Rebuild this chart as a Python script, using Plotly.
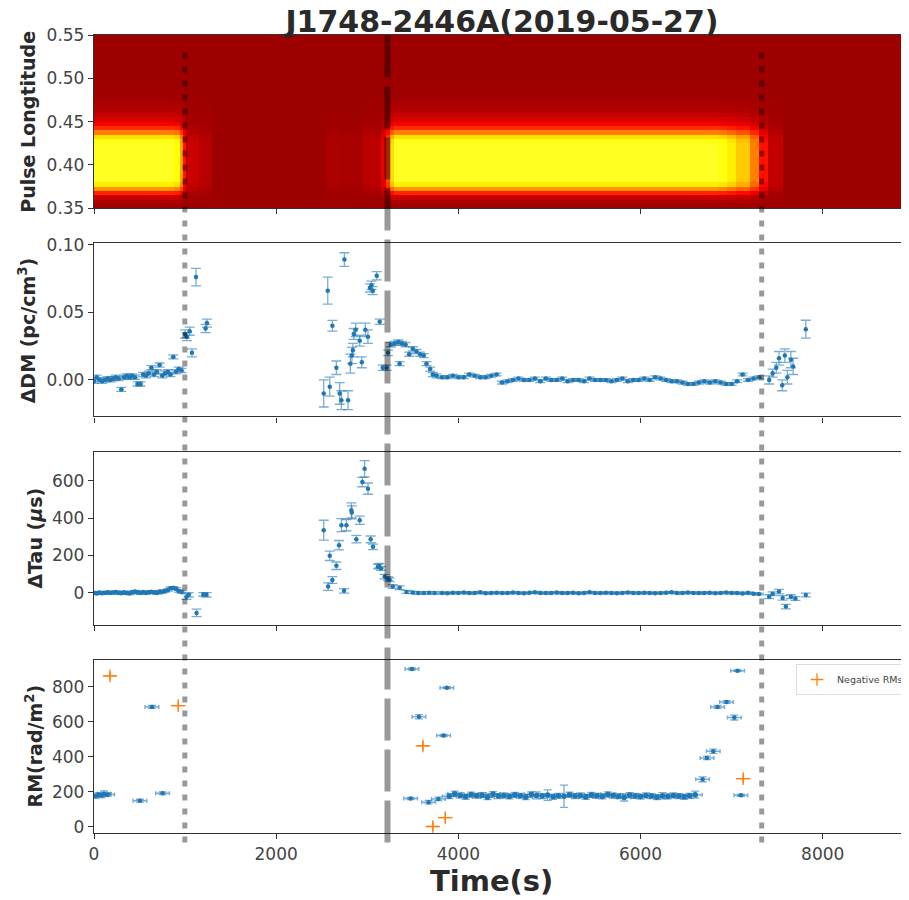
import plotly.graph_objects as go
from plotly.subplots import make_subplots

# ---- top panel: pulse stack (time columns x longitude rows) ----
heat_t_edges = [0, 880, 940, 980, 1010, 1150, 1300, 2550, 2700, 2950, 3150,
                3210, 3250, 3290, 6850, 6950, 7050, 7200, 7300, 7400, 7560, 8936]
heat_amp = [1.0, 0.95, 0.7, 0.3, 0.12, 0.07, 0.0, 0.04, 0.03, 0.08,
            0.2, 0.45, 0.85, 1.0, 0.97, 0.9, 0.8, 0.6, 0.3, 0.1, 0.0]
lon_edges = [0.350, 0.355, 0.360, 0.365, 0.370, 0.375, 0.380, 0.385, 0.390, 0.395,
             0.400, 0.405, 0.410, 0.415, 0.420, 0.425, 0.430, 0.435, 0.440, 0.445,
             0.450, 0.455, 0.460, 0.465, 0.470, 0.475, 0.480, 0.485, 0.490, 0.495,
             0.500, 0.505, 0.510, 0.515, 0.520, 0.525, 0.530, 0.535, 0.540, 0.545, 0.550]
lon_profile = [0.01, 0.04, 0.12, 0.35, 0.65, 0.9, 1.0, 1.0, 1.0, 1.0,
               1.0, 1.0, 1.0, 1.0, 1.0, 0.97, 0.85, 0.6, 0.38, 0.24,
               0.16, 0.11, 0.07, 0.045, 0.03, 0.02, 0.01, 0.005, 0.0, 0.0,
               0.0, 0.0, 0.0, 0.0, 0.0, 0.0, 0.0, 0.0, 0.0, 0.0]
heat_bg = 0.22
heat_gain = 0.56

# ---- shared time samples ----
t_early = [0, 30, 60, 90, 120, 150, 180, 210, 240, 270,
           300, 330, 360, 390, 420, 450, 480, 510, 540, 570,
           600, 630, 660, 690, 720, 750, 780, 810, 840, 870,
           900, 930, 960]
t_main = [3820, 3880, 3940, 4000, 4060, 4120, 4180, 4240, 4300, 4360,
          4420, 4480, 4540, 4600, 4660, 4720, 4780, 4840, 4900, 4960,
          5020, 5080, 5140, 5200, 5260, 5320, 5380, 5440, 5500, 5560,
          5620, 5680, 5740, 5800, 5860, 5920, 5980, 6040, 6100, 6160,
          6220, 6280, 6340, 6400, 6460, 6520, 6580, 6640, 6700, 6760,
          6820, 6880, 6940, 7000, 7060, 7120, 7180, 7240, 7300]

# ---- DM ----
dm_early = [-0.001, 0.002, 0.000, -0.001, 0.000, 0.001, 0.000, 0.001, 0.002, 0.001,
            -0.007, 0.002, 0.003, 0.002, 0.003, 0.002, -0.003, -0.003, 0.004, 0.003,
            0.005, 0.009, 0.004, 0.006, 0.011, 0.003, 0.005, 0.006, 0.004, 0.017,
            0.006, 0.008, 0.007]
dm_t_burst = [1000, 1020, 1050, 1075, 1120, 1225, 1240, 2522, 2566, 2588,
              2617, 2661, 2697, 2716, 2749, 2789, 2814, 2831, 2842, 2851,
              2873, 2917, 2940, 2979, 3007, 3030, 3045, 3060, 3104, 3136,
              3170, 3213, 3227]
dm_burst = [0.034, 0.032, 0.036, 0.020, 0.076, 0.038, 0.042, -0.010, 0.066, -0.005,
            0.040, 0.009, -0.010, -0.015, 0.089, -0.015, 0.012, 0.018, 0.022, 0.034,
            0.037, 0.029, 0.013, 0.037, 0.032, 0.068, 0.070, 0.066, 0.077, 0.043,
            0.009, 0.009, 0.020]
dm_burst_err = [0.003, 0.003, 0.003, 0.003, 0.0065, 0.003, 0.003, 0.010, 0.010, 0.007,
                0.004, 0.005, 0.008, 0.007, 0.005, 0.007, 0.007, 0.006, 0.005, 0.004,
                0.005, 0.004, 0.004, 0.005, 0.005, 0.003, 0.003, 0.003, 0.003, 0.002,
                0.002, 0.002, 0.002]
dm_t_tr = [3260, 3300, 3340, 3355, 3380, 3420, 3460, 3500, 3540, 3580,
           3620, 3650, 3690, 3720, 3760]
dm_tr = [0.026, 0.027, 0.028, 0.012, 0.027, 0.026, 0.019, 0.023, 0.021, 0.019,
         0.018, 0.012, 0.008, 0.004, 0.003]
dm_main = [0.002, 0.002, 0.003, 0.002, 0.002, 0.004, 0.003, 0.002, 0.002, 0.003,
           0.004, -0.002, -0.001, 0.000, 0.001, 0.000, 0.000, 0.001, -0.001, 0.001,
           0.000, 0.000, 0.001, -0.001, 0.000, 0.000, -0.001, 0.001, 0.000, 0.000,
           0.000, -0.001, 0.000, 0.001, -0.001, 0.000, 0.000, 0.001, 0.000, 0.002,
           0.001, 0.000, -0.001, -0.001, -0.002, -0.003, -0.003, -0.002, -0.001, -0.002,
           -0.001, -0.002, -0.003, -0.003, -0.001, 0.004, 0.000, 0.001, 0.002]
dm_t_late = [7412, 7450, 7490, 7520, 7555, 7584, 7612, 7650, 7675, 7814]
dm_late = [0.000, 0.005, 0.009, 0.016, -0.004, 0.018, 0.002, 0.015, 0.010, 0.0375]
dm_late_err = [0.003, 0.003, 0.004, 0.005, 0.004, 0.005, 0.005, 0.006, 0.006, 0.0066]

# ---- Tau ----
tau_early = [0, -3, 2, -2, 0, 3, -1, 2, 5, 0,
             -2, 3, 0, -3, 4, 8, 2, 0, 5, -1,
             3, 6, 2, 0, 8, 5, 10, 15, 25, 28,
             22, 10, 5]
tau_t_burst = [1016, 1040, 1126, 1200, 1235, 2522, 2570, 2588, 2617, 2661,
               2690, 2716, 2745, 2771, 2825, 2830, 2880, 2917, 2946, 2971,
               3008, 3037, 3063, 3117, 3130, 3150, 3190, 3227, 3245, 3280,
               3355, 3430, 3500, 3560, 3620, 3680, 3740]
tau_burst = [-20, -10, -107, -8, -10, 335, 34, 198, 69, 145,
             255, 362, 11, 362, 441, 430, 287, 388, 592, 663,
             557, 286, 246, 140, 145, 130, 87, 77, 70, 34,
             28, 5, 2, 0, -1, 1, 0]
tau_burst_err = [15, 12, 20, 10, 12, 53, 20, 25, 18, 20,
                 25, 35, 12, 30, 40, 35, 20, 22, 25, 44,
                 30, 18, 15, 12, 12, 10, 12, 10, 10, 10,
                 10, 8, 6, 6, 6, 6, 6]
tau_main = [0, -2, 1, 0, 2, -1, 0, 3, -2, 0,
            1, 0, -1, 2, 0, -2, 1, 3, 0, -1,
            0, 2, -1, 0, 1, -2, 0, 3, 0, -1,
            1, 0, -2, 0, 2, 0, -1, 1, 0, -2,
            0, 1, 3, 0, -1, 2, 0, -1, 0, 1,
            -2, 0, 2, -1, 0, -3, 1, -4, -6]
tau_t_late = [7412, 7450, 7520, 7560, 7595, 7650, 7700, 7814]
tau_late = [-20, -5, 7, -27, -73, -20, -30, -11]
tau_late_err = [10, 10, 12, 12, 12, 10, 10, 10]

# ---- RM ----
rm_t_pos = [20, 50, 80, 110, 150, 504, 636, 753, 3476, 3490,
            3567, 3673, 3780, 3838, 3874, 6681, 6729, 6798, 6845, 6944,
            7029, 7065, 7101]
rm_pos = [175, 185, 180, 190, 185, 150, 686, 192, 162, 903,
          630, 141, 160, 522, 796, 272, 394, 432, 686, 714,
          625, 893, 181]
rm_pos_err = [10, 10, 12, 15, 10, 8, 8, 8, 6, 6,
              12, 10, 10, 6, 6, 14, 10, 12, 8, 8,
              14, 6, 6]
rm_t_main = [3900, 3960, 4020, 4080, 4140, 4200, 4260, 4320, 4380, 4440,
             4500, 4560, 4620, 4680, 4740, 4800, 4860, 4920, 4980, 5040,
             5100, 5160, 5220, 5280, 5340, 5400, 5460, 5520, 5580, 5640,
             5700, 5760, 5820, 5880, 5940, 6000, 6060, 6120, 6180, 6240,
             6300, 6360, 6420, 6480, 6540, 6600]
rm_main = [175, 190, 180, 172, 185, 178, 182, 170, 188, 176,
           180, 174, 183, 178, 170, 186, 180, 176, 182, 172,
           178, 175, 184, 176, 180, 171, 183, 178, 174, 186,
           179, 175, 168, 182, 177, 173, 180, 176, 170, 178,
           174, 180, 176, 172, 178, 184]
rm_main_err = [14, 14, 14, 14, 14, 14, 14, 14, 14, 14,
               14, 14, 14, 14, 14, 14, 20, 14, 30, 14,
               14, 64, 14, 14, 14, 14, 14, 14, 14, 14,
               14, 14, 20, 14, 14, 14, 14, 14, 14, 18,
               14, 14, 14, 14, 14, 20]
rm_t_neg = [175, 925, 3611, 3720, 3856, 7127]
rm_neg = [863, 693, 463, 2, 53, 276]

event_lines = [997, 3222, 7330]

BLUE = "#1f77b4"
BLUE_ERR = "rgba(31,119,180,0.6)"
ORANGE = "#ff7f0e"
FONT = "DejaVu Sans"

# the page puts the figure 8px in from the top-left corner
OFF = 8
W, H = 909 - OFF, 900 - OFF

fig = make_subplots(rows=4, cols=1, shared_xaxes=True, vertical_spacing=0.044)

# heatmap
z = [[heat_bg + heat_gain * a * p for a in heat_amp] for p in lon_profile]
hot = [[0.0, "rgb(10,0,0)"], [0.365, "rgb(255,0,0)"],
       [0.746, "rgb(255,255,0)"], [1.0, "rgb(255,255,255)"]]
fig.add_trace(go.Heatmap(x=heat_t_edges, y=lon_edges, z=z, colorscale=hot,
                         zmin=0, zmax=1, showscale=False, hoverinfo="skip"),
              row=1, col=1)


def errpts(x, y, err, row, xerr=None, capw=5, size=4.5, xcap=2):
    tr = go.Scatter(
        x=x, y=y, mode="markers",
        marker=dict(color=BLUE, size=size),
        error_y=dict(type="data", array=err, color=BLUE_ERR, thickness=1.3, width=capw),
        showlegend=False,
    )
    if xerr is not None:
        tr.error_x = dict(type="data", array=xerr, color=BLUE_ERR, thickness=1.5, width=xcap)
    fig.add_trace(tr, row=row, col=1)


# DM
errpts(t_early, dm_early, [0.0015] * len(t_early), 2, xerr=[30] * len(t_early), xcap=0)
errpts(dm_t_burst, dm_burst, dm_burst_err, 2)
errpts(dm_t_tr, dm_tr, [0.0015] * len(dm_t_tr), 2, xerr=[25] * len(dm_t_tr), xcap=0)
errpts(t_main, dm_main, [0.001] * len(t_main), 2, xerr=[32] * len(t_main), xcap=0)
errpts(dm_t_late, dm_late, dm_late_err, 2)

# Tau
errpts(t_early, tau_early, [6] * len(t_early), 3, xerr=[30] * len(t_early), xcap=0)
errpts(tau_t_burst, tau_burst, tau_burst_err, 3)
errpts(t_main, tau_main, [5] * len(t_main), 3, xerr=[32] * len(t_main), xcap=0)
errpts(tau_t_late, tau_late, tau_late_err, 3)

# RM
errpts(rm_t_main, rm_main, rm_main_err, 4, xerr=[75] * len(rm_t_main), capw=4, size=5.5)
errpts(rm_t_pos, rm_pos, rm_pos_err, 4, xerr=[75] * len(rm_t_pos), capw=4)
fig.add_trace(go.Scatter(
    x=rm_t_neg, y=rm_neg, mode="markers", name="Negative RMs",
    marker=dict(symbol="cross-thin-open", size=9, color=ORANGE,
                line=dict(color=ORANGE, width=1.3)),
    error_x=dict(type="data", array=[80] * len(rm_t_neg), color=ORANGE, thickness=1.3, width=0),
    error_y=dict(type="data", array=[25] * len(rm_t_neg), color=ORANGE, thickness=1.3, width=0),
    showlegend=True,
), row=4, col=1)

# event markers across all panels
for i, xv in enumerate(event_lines):
    dashed = i == 1
    fig.add_shape(type="line", xref="x4", yref="paper", x0=xv, x1=xv,
                  y0=-0.012, y1=1.0 if dashed else 0.985,
                  line=dict(color="rgba(0,0,0,0.4)", width=6 if dashed else 5,
                            dash="42px,9px" if dashed else "6px,8px"))

axis_style = dict(showline=True, linecolor="#333", linewidth=1.3, mirror=True,
                  ticks="outside", ticklen=5, tickwidth=1.3, tickcolor="#333",
                  showgrid=False, zeroline=False,
                  tickfont=dict(family=FONT, size=17, color="#444"))
for r in range(1, 5):
    fig.update_xaxes(range=[0, 8936], tickvals=[0, 2000, 4000, 6000, 8000],
                     row=r, col=1, **axis_style)
    fig.update_yaxes(row=r, col=1, **axis_style)

fig.update_yaxes(range=[0.35, 0.55], tickvals=[0.35, 0.40, 0.45, 0.50, 0.55],
                 tickformat=".2f", row=1, col=1)
fig.update_yaxes(range=[-0.027, 0.101], tickvals=[0.0, 0.05, 0.10],
                 tickformat=".2f", row=2, col=1)
fig.update_yaxes(range=[-170, 755], tickvals=[0, 200, 400, 600], row=3, col=1)
fig.update_yaxes(range=[-35, 955], tickvals=[0, 200, 400, 600, 800], row=4, col=1)

ylabels = [
    ("Pulse Longtitude", 28, 0.8915),
    ("ΔDM (pc/cm<sup>3</sup>)", 27, 0.630),
    ("ΔTau (<i>μ</i>s)", 34, 0.369),
    ("RM(rad/m<sup>2</sup>)", 34, 0.1085),
]
for txt, px, yc in ylabels:
    fig.add_annotation(text="<b>" + txt + "</b>", xref="paper", yref="paper",
                       x=(px - 94) / 815, y=yc, textangle=-90, showarrow=False,
                       xanchor="center", yanchor="middle",
                       font=dict(family=FONT, size=19, color="#2a2a2a"))

fig.add_annotation(text="<b>Time(s)</b>", xref="paper", yref="paper",
                   x=(492 - 94) / 815, y=(833 - 881) / 798, showarrow=False,
                   xanchor="center", yanchor="middle",
                   font=dict(family=FONT, size=29, color="#2a2a2a"))

fig.update_layout(
    width=W, height=H,
    margin=dict(l=94 - OFF, r=0, t=35 - OFF, b=H - (833 - OFF)),
    paper_bgcolor="white", plot_bgcolor="white",
    title=dict(text="<b>J1748-2446A(2019-05-27)</b>", x=(502 - OFF) / W,
               xanchor="center", y=1 - 3 / H, yanchor="top", pad=dict(t=0),
               font=dict(family=FONT, size=30, color="#2a2a2a")),
    legend=dict(x=(797 - 94) / 815, y=(833 - 664) / 798, xanchor="left", yanchor="top",
                bgcolor="rgba(255,255,255,0.9)", bordercolor="#ddd", borderwidth=1,
                itemwidth=30, font=dict(family=FONT, size=9.5, color="#444")),
)

fig.write_html("out.html")
